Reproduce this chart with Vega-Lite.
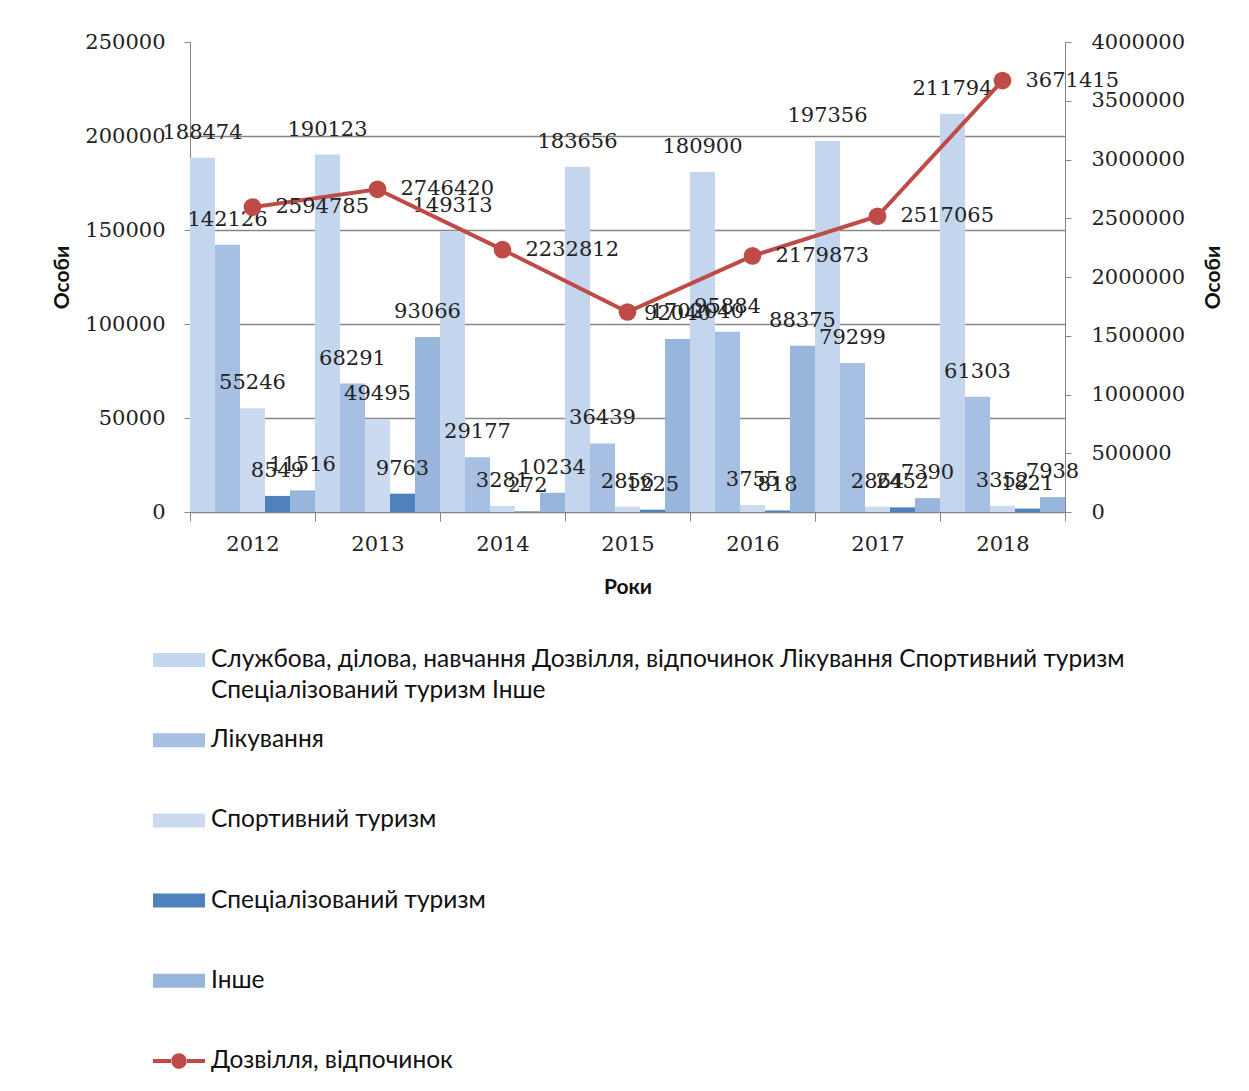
{
  "$schema": "https://vega.github.io/schema/vega-lite/v6.json",
  "width": 875,
  "height": 470,
  "autosize": "none",
  "padding": {"left": 190, "top": 42, "right": 184, "bottom": 579},
  "background": "white",
  "config": {"view": {"stroke": null}, "font": "DejaVu Serif"},
  "datasets": {
    "bars": [
      {"year": "2012", "series": "Службова, ділова, навчання Дозвілля, відпочинок Лікування Спортивний туризм Спеціалізований туризм Інше", "value": 188474},
      {"year": "2012", "series": "Лікування", "value": 142126},
      {"year": "2012", "series": "Спортивний туризм", "value": 55246},
      {"year": "2012", "series": "Спеціалізований туризм", "value": 8549},
      {"year": "2012", "series": "Інше", "value": 11516},
      {"year": "2013", "series": "Службова, ділова, навчання Дозвілля, відпочинок Лікування Спортивний туризм Спеціалізований туризм Інше", "value": 190123},
      {"year": "2013", "series": "Лікування", "value": 68291},
      {"year": "2013", "series": "Спортивний туризм", "value": 49495},
      {"year": "2013", "series": "Спеціалізований туризм", "value": 9763},
      {"year": "2013", "series": "Інше", "value": 93066},
      {"year": "2014", "series": "Службова, ділова, навчання Дозвілля, відпочинок Лікування Спортивний туризм Спеціалізований туризм Інше", "value": 149313},
      {"year": "2014", "series": "Лікування", "value": 29177},
      {"year": "2014", "series": "Спортивний туризм", "value": 3281},
      {"year": "2014", "series": "Спеціалізований туризм", "value": 272},
      {"year": "2014", "series": "Інше", "value": 10234},
      {"year": "2015", "series": "Службова, ділова, навчання Дозвілля, відпочинок Лікування Спортивний туризм Спеціалізований туризм Інше", "value": 183656},
      {"year": "2015", "series": "Лікування", "value": 36439},
      {"year": "2015", "series": "Спортивний туризм", "value": 2856},
      {"year": "2015", "series": "Спеціалізований туризм", "value": 1225},
      {"year": "2015", "series": "Інше", "value": 92040},
      {"year": "2016", "series": "Службова, ділова, навчання Дозвілля, відпочинок Лікування Спортивний туризм Спеціалізований туризм Інше", "value": 180900},
      {"year": "2016", "series": "Лікування", "value": 95884},
      {"year": "2016", "series": "Спортивний туризм", "value": 3755},
      {"year": "2016", "series": "Спеціалізований туризм", "value": 818},
      {"year": "2016", "series": "Інше", "value": 88375},
      {"year": "2017", "series": "Службова, ділова, навчання Дозвілля, відпочинок Лікування Спортивний туризм Спеціалізований туризм Інше", "value": 197356},
      {"year": "2017", "series": "Лікування", "value": 79299},
      {"year": "2017", "series": "Спортивний туризм", "value": 2864},
      {"year": "2017", "series": "Спеціалізований туризм", "value": 2452},
      {"year": "2017", "series": "Інше", "value": 7390},
      {"year": "2018", "series": "Службова, ділова, навчання Дозвілля, відпочинок Лікування Спортивний туризм Спеціалізований туризм Інше", "value": 211794},
      {"year": "2018", "series": "Лікування", "value": 61303},
      {"year": "2018", "series": "Спортивний туризм", "value": 3352},
      {"year": "2018", "series": "Спеціалізований туризм", "value": 1821},
      {"year": "2018", "series": "Інше", "value": 7938}
    ],
    "line": [
      {"year": "2012", "series": "Дозвілля, відпочинок", "value": 2594785},
      {"year": "2013", "series": "Дозвілля, відпочинок", "value": 2746420},
      {"year": "2014", "series": "Дозвілля, відпочинок", "value": 2232812},
      {"year": "2015", "series": "Дозвілля, відпочинок", "value": 1702040},
      {"year": "2016", "series": "Дозвілля, відпочинок", "value": 2179873},
      {"year": "2017", "series": "Дозвілля, відпочинок", "value": 2517065},
      {"year": "2018", "series": "Дозвілля, відпочинок", "value": 3671415}
    ]
  },
  "encoding": {
    "x": {
      "field": "year",
      "type": "nominal",
      "scale": {"paddingInner": 0, "paddingOuter": 0},
      "axis": {
        "title": "Роки",
        "labelAngle": 0,
        "tickBand": "extent",
        "tickSize": 9,
        "labelPadding": 12,
        "labelFont": "DejaVu Serif",
        "labelFontSize": 21,
        "labelColor": "#222222",
        "domainColor": "#868686",
        "tickColor": "#868686",
        "titleFont": "Lato",
        "titleFontSize": 21,
        "titleFontWeight": "bold",
        "titleColor": "#111111",
        "titleY": 75,
        "titleBaseline": "middle"
      }
    }
  },
  "layer": [
    {
      "data": {"name": "bars"},
      "encoding": {
        "xOffset": {
          "field": "series",
          "type": "nominal",
          "scale": {
            "domain": [
              "Службова, ділова, навчання Дозвілля, відпочинок Лікування Спортивний туризм Спеціалізований туризм Інше",
              "Лікування", "Спортивний туризм", "Спеціалізований туризм", "Інше"
            ],
            "paddingInner": 0, "paddingOuter": 0
          }
        },
        "y": {
          "field": "value",
          "type": "quantitative",
          "scale": {"domain": [0, 250000], "nice": false},
          "axis": {
            "title": "Особи",
            "values": [0, 50000, 100000, 150000, 200000, 250000],
            "format": "d",
            "labelFont": "DejaVu Serif",
            "labelFontSize": 21,
            "labelColor": "#222222",
            "labelPadding": 19,
            "tickSize": 6,
            "tickColor": "#868686",
            "domainColor": "#868686",
            "grid": true,
            "gridColor": {"condition": {"test": "datum.value === 250000", "value": "transparent"}, "value": "#868686"},
            "gridWidth": 1.3,
            "titleFont": "Lato",
            "titleFontSize": 21,
            "titleFontWeight": "bold",
            "titleColor": "#111111",
            "titleX": -128,
            "titleY": 235,
            "titleAngle": 270,
            "titleAlign": "center",
            "titleBaseline": "middle"
          }
        }
      },
      "layer": [
        {
          "mark": {"type": "bar"},
          "encoding": {
            "color": {
              "field": "series",
              "type": "nominal",
              "scale": {
                "domain": [
                  "Службова, ділова, навчання Дозвілля, відпочинок Лікування Спортивний туризм Спеціалізований туризм Інше",
                  "Лікування", "Спортивний туризм", "Спеціалізований туризм", "Інше", "Дозвілля, відпочинок"
                ],
                "range": ["#c4d6ee", "#a6bfe2", "#cbdaf0", "#4f81bd", "#98b5dc", "#be4b48"]
              },
              "legend": {
                "orient": "none",
                "legendX": -37,
                "legendY": 592,
                "direction": "vertical",
                "title": null,
                "padding": 0,
                "gridAlign": "all",
                "labelFont": "Lato",
                "labelFontSize": 24.5,
                "labelColor": "#111111",
                "labelLimit": 1100,
                "labelOffset": 6,
                "symbolSize": 2704,
                "symbolStrokeWidth": 0,
                "symbolOpacity": 1,
                "rowPadding": 11.2,
                "labelExpr": "indexof(datum.label, 'Службова') == 0 ? ['Службова, ділова, навчання Дозвілля, відпочинок Лікування Спортивний туризм', 'Спеціалізований туризм Інше'] : datum.label",
                "encode": {
                  "labels": {"update": {"lineHeight": {"value": 31}}},
                  "symbols": {
                    "update": {
                      "shape": {"signal": "datum.value == 'Дозвілля, відпочинок' ? 'M-1,-0.08H-0.28V0.08H-1Z M0.28,-0.08H1V0.08H0.28Z M-0.3,0A0.3,0.3 0 1,0 0.3,0A0.3,0.3 0 1,0 -0.3,0Z' : 'M-1,-0.27H1V0.27H-1Z'"},
                      "fill": {"scale": "color", "field": "value"},
                      "stroke": {"value": "transparent"},
                      "opacity": {"value": 1}
                    }
                  }
                }
              }
            }
          }
        },
        {
          "mark": {"type": "text", "baseline": "alphabetic", "align": "center", "dy": -19, "font": "DejaVu Serif", "fontSize": 21, "color": "#222222"},
          "encoding": {
            "text": {"field": "value", "type": "quantitative", "format": "d"}
          }
        }
      ]
    },
    {
      "data": {"name": "line"},
      "encoding": {
        "y": {
          "field": "value",
          "type": "quantitative",
          "scale": {"domain": [0, 4000000], "nice": false},
          "axis": {
            "orient": "right",
            "title": "Особи",
            "values": [0, 500000, 1000000, 1500000, 2000000, 2500000, 3000000, 3500000, 4000000],
            "format": "d",
            "grid": false,
            "labelFont": "DejaVu Serif",
            "labelFontSize": 21,
            "labelColor": "#222222",
            "labelPadding": 20,
            "tickSize": 6,
            "tickColor": "#868686",
            "domainColor": "#868686",
            "titleFont": "Lato",
            "titleFontSize": 21,
            "titleFontWeight": "bold",
            "titleColor": "#111111",
            "titleX": 148,
            "titleY": 235,
            "titleAngle": 270,
            "titleAlign": "center",
            "titleBaseline": "middle"
          }
        }
      },
      "layer": [
        {
          "mark": {"type": "line", "strokeWidth": 4},
          "encoding": {"color": {"field": "series", "type": "nominal"}}
        },
        {
          "mark": {"type": "point", "filled": true, "size": 314, "opacity": 1},
          "encoding": {"color": {"field": "series", "type": "nominal"}}
        },
        {
          "mark": {"type": "text", "align": "left", "baseline": "middle", "dx": 23, "font": "DejaVu Serif", "fontSize": 21, "color": "#222222"},
          "encoding": {"text": {"field": "value", "type": "quantitative", "format": "d"}}
        }
      ]
    }
  ],
  "resolve": {"scale": {"y": "independent"}}
}
